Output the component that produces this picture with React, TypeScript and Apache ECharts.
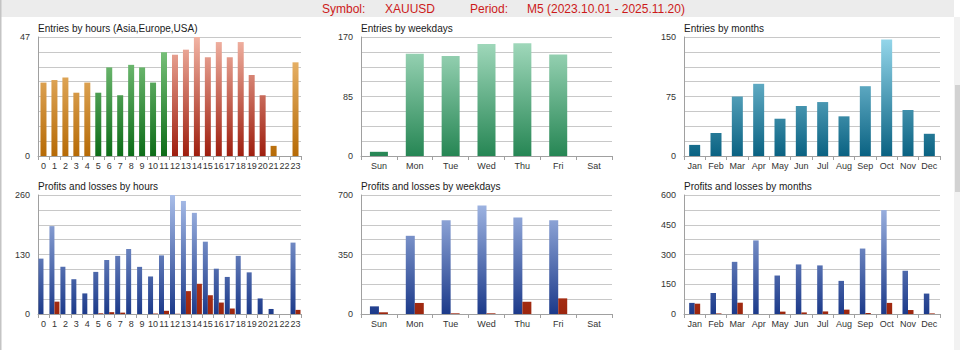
import React, { useEffect, useRef } from "react";
import * as echarts from "echarts";

// ---- data ----
const hours = ["0","1","2","3","4","5","6","7","8","9","10","11","12","13","14","15","16","17","18","19","20","21","22","23"];
const hourRegions = ["Asia","Asia","Asia","Asia","Asia","Europe","Europe","Europe","Europe","Europe","Europe","Europe","USA","USA","USA","USA","USA","USA","USA","USA","USA","Asia","Asia","Asia"];
const entriesByHour = [29,30,31,25,29,25,35,24,36,35,29,41,40,42,47,39,45,39,45,32,24,4,0,37];

const weekdays = ["Sun","Mon","Tue","Wed","Thu","Fri","Sat"];
const entriesByWeekday = [6,146,143,160,161,145,0];

const months = ["Jan","Feb","Mar","Apr","May","Jun","Jul","Aug","Sep","Oct","Nov","Dec"];
const entriesByMonth = [14,29,75,91,47,63,68,50,88,147,58,28];

const profitByHour = [121,192,103,76,45,92,118,127,142,103,82,128,260,247,221,158,99,81,127,91,34,11,0,156];
const lossByHour = [0,27,0,0,0,1.5,4,3,0,0,1,7,0.5,50,66,41,25,12,0,0,0,0,0,9];

const profitByWeekday = [45,460,552,638,567,552,0];
const lossByWeekday = [10,65,4,4,72,92,0];

const profitByMonth = [56,106,263,371,194,250,245,167,330,524,218,103];
const lossByMonth = [52,3,57,0,12,8,13,22,5,56,20,3];

const axisMax = [47,170,150,260,700,600];
const axisLabelIdx = [[0,8],[0,4,8],[0,4,8],[0,4,8],[0,4,8],[0,2,4,6,8]];

const panelTitles = [
  "Entries by hours (Asia,Europe,USA)",
  "Entries by weekdays",
  "Entries by months",
  "Profits and losses by hours",
  "Profits and losses by weekdays",
  "Profits and losses by months",
];

const symbol = "XAUUSD";
const period = "M5 (2023.10.01 - 2025.11.20)";

const grids = [
  { left: 38, top: 37, width: 263, height: 119 },
  { left: 361, top: 37, width: 251, height: 119 },
  { left: 684, top: 37, width: 256, height: 119 },
  { left: 38, top: 195, width: 263, height: 119 },
  { left: 361, top: 195, width: 251, height: 119 },
  { left: 684, top: 195, width: 256, height: 119 },
];

const FONT = "'Liberation Sans', Arial, sans-serif";

function grad(g: any, top: string, bottom: string) {
  return new echarts.graphic.LinearGradient(
    0, g.top, 0, g.top + g.height,
    [{ offset: 0, color: top }, { offset: 1, color: bottom }],
    true
  );
}

const regionColors: Record<string, [string, string]> = {
  Asia: ["#f2c27e", "#b66a06"],
  Europe: ["#86cc86", "#0d6c18"],
  USA: ["#f2b4a4", "#9e1e0e"],
};

export default function App() {
  const ref = useRef<HTMLDivElement>(null);
  useEffect(() => {
    if (!ref.current) return;
    const chart = echarts.init(ref.current, null, { renderer: "svg" });

    const cats = [hours, weekdays, months, hours, weekdays, months];
    const xAxis = cats.map((c, i) => ({
      type: "category",
      gridIndex: i,
      data: c,
      axisLine: { lineStyle: { color: "#a0a0a0" } },
      axisTick: { show: true, length: 4, lineStyle: { color: "#a0a0a0" } },
      axisLabel: {
        interval: 0,
        fontSize: 9,
        color: "#333",
        fontFamily: FONT,
        margin: 5,
        hideOverlap: false,
      },
    }));
    const yAxis = axisMax.map((m, i) => ({
      type: "value",
      gridIndex: i,
      min: 0,
      max: m,
      interval: m / 8,
      axisLine: { show: true, lineStyle: { color: "#a0a0a0" } },
      axisTick: { show: false },
      splitLine: { show: true, lineStyle: { color: "#c8c8c8", width: 1 } },
      axisLabel: {
        fontSize: 9,
        color: "#333",
        fontFamily: FONT,
        margin: 8,
        showMinLabel: true,
        showMaxLabel: true,
        formatter: (v: number, idx: number) => (axisLabelIdx[i].includes(idx) ? String(v) : ""),
      },
    }));

    const blue = (g: any) => grad(g, "#a9bee9", "#1c3a8a");
    const red = (g: any) => grad(g, "#d4532e", "#9c260e");

    const series: any[] = [
      {
        type: "bar", xAxisIndex: 0, yAxisIndex: 0, barWidth: 6,
        data: entriesByHour.map((v, k) => ({
          value: v,
          itemStyle: { color: grad(grids[0], regionColors[hourRegions[k]][0], regionColors[hourRegions[k]][1]) },
        })),
      },
      {
        type: "bar", xAxisIndex: 1, yAxisIndex: 1, barWidth: 18,
        itemStyle: { color: grad(grids[1], "#a6dcc0", "#268654") },
        data: entriesByWeekday,
      },
      {
        type: "bar", xAxisIndex: 2, yAxisIndex: 2, barWidth: 11,
        itemStyle: { color: grad(grids[2], "#96d8ec", "#0a6282") },
        data: entriesByMonth,
      },
      { type: "bar", xAxisIndex: 3, yAxisIndex: 3, barWidth: 5, barGap: "0%", itemStyle: { color: blue(grids[3]) }, data: profitByHour },
      { type: "bar", xAxisIndex: 3, yAxisIndex: 3, barWidth: 5, barGap: "0%", itemStyle: { color: red(grids[3]) }, data: lossByHour },
      { type: "bar", xAxisIndex: 4, yAxisIndex: 4, barWidth: 9, barGap: "0%", itemStyle: { color: blue(grids[4]) }, data: profitByWeekday },
      { type: "bar", xAxisIndex: 4, yAxisIndex: 4, barWidth: 9, barGap: "0%", itemStyle: { color: red(grids[4]) }, data: lossByWeekday },
      { type: "bar", xAxisIndex: 5, yAxisIndex: 5, barWidth: 5.5, barGap: "0%", itemStyle: { color: blue(grids[5]) }, data: profitByMonth },
      { type: "bar", xAxisIndex: 5, yAxisIndex: 5, barWidth: 5.5, barGap: "0%", itemStyle: { color: red(grids[5]) }, data: lossByMonth },
    ];

    const headerColor = "#cc1a1a";
    const graphic: any[] = [
      { type: "rect", silent: true, z: -10, shape: { x: 0, y: 0, width: 954, height: 17 }, style: { fill: "#ececec" } },
      { type: "rect", silent: true, z: -10, shape: { x: 0, y: 0, width: 1.5, height: 350 }, style: { fill: "#c4c4c4" } },
      { type: "rect", silent: true, z: -10, shape: { x: 954, y: 17, width: 6, height: 333 }, style: { fill: "#f2f2f2" } },
      { type: "rect", silent: true, z: -10, shape: { x: 955, y: 85, width: 5, height: 107 }, style: { fill: "#d2d2d2" } },
      { type: "text", x: 322, y: 9, style: { text: "Symbol:", fill: headerColor, font: `12px ${FONT}`, verticalAlign: "middle", align: "left" } },
      { type: "text", x: 385, y: 9, style: { text: symbol, fill: headerColor, font: `12px ${FONT}`, verticalAlign: "middle", align: "left" } },
      { type: "text", x: 470, y: 9, style: { text: "Period:", fill: headerColor, font: `12px ${FONT}`, verticalAlign: "middle", align: "left" } },
      { type: "text", x: 527, y: 9, style: { text: period, fill: headerColor, font: `12px ${FONT}`, verticalAlign: "middle", align: "left" } },
    ];
    panelTitles.forEach((t, i) => {
      graphic.push({
        type: "text",
        x: grids[i].left,
        y: i < 3 ? 28 : 186,
        style: { text: t, fill: "#1a1a1a", font: `10px ${FONT}`, verticalAlign: "middle", align: "left" },
      });
    });

    chart.setOption({
      animation: false,
      backgroundColor: "#ffffff",
      grid: grids.map((g) => ({ ...g, containLabel: false })),
      xAxis,
      yAxis,
      series,
      graphic,
    });
    return () => chart.dispose();
  }, []);
  return (
    <div
      ref={ref}
      style={{ position: "fixed", left: 0, top: 0, width: 960, height: 350, background: "#fff" }}
    />
  );
}
